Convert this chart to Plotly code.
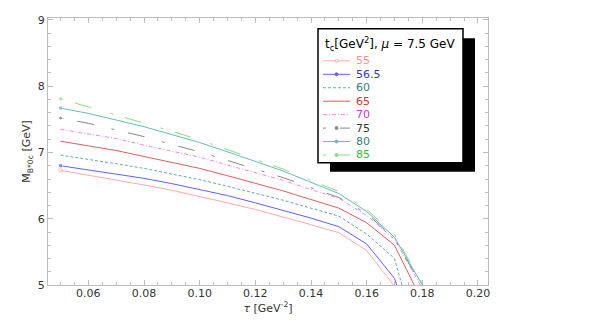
import plotly.graph_objects as go

# tau grid [GeV^-2]
tau = [0.05, 0.06, 0.07, 0.08, 0.09, 0.10, 0.11, 0.12, 0.13, 0.14, 0.15, 0.16, 0.17, 0.18]

# mass curves [GeV], one per threshold t_c
m_55 = [6.73, 6.66, 6.59, 6.51, 6.43, 6.34, 6.24, 6.14, 6.03, 5.91, 5.79, 5.52, 4.98, 3.60]
m_565 = [6.80, 6.74, 6.68, 6.61, 6.53, 6.44, 6.35, 6.24, 6.13, 6.01, 5.88, 5.62, 5.10, 3.80]
m_60 = [6.96, 6.90, 6.83, 6.76, 6.68, 6.59, 6.49, 6.39, 6.28, 6.16, 6.04, 5.77, 5.40, 3.90]
m_65 = [7.17, 7.10, 7.03, 6.94, 6.85, 6.76, 6.65, 6.54, 6.42, 6.29, 6.16, 5.94, 5.60, 4.75]
m_70 = [7.35, 7.28, 7.21, 7.11, 7.02, 6.93, 6.81, 6.70, 6.58, 6.44, 6.31, 6.05, 5.69, 4.95]
m_75 = [7.52, 7.44, 7.34, 7.24, 7.12, 7.01, 6.88, 6.75, 6.62, 6.47, 6.32, 6.08, 5.70, 4.98]
m_80 = [7.67, 7.59, 7.49, 7.39, 7.27, 7.15, 7.01, 6.87, 6.72, 6.55, 6.38, 6.11, 5.72, 5.00]
m_85 = [7.81, 7.69, 7.57, 7.45, 7.32, 7.19, 7.045, 6.90, 6.75, 6.58, 6.41, 6.14, 5.76, 5.02]

labels = ['55', '56.5', '60', '65', '70', '75', '80', '85']
series = [m_55, m_565, m_60, m_65, m_70, m_75, m_80, m_85]

# style per curve: line colour, dash, text colour, marker symbol (or None)
styles = [
    ('#FFAAAA', 'solid', '#FF9090', 'circle-open'),
    ('#6060FF', 'solid', '#3333CC', 'square'),
    ('#66AAAA', '3px,2px', '#2F7F7F', None),
    ('#D86060', 'solid', '#CC3333', None),
    ('#EE88EE', '4px,2px,1px,2px', '#CC33CC', None),
    ('#888888', '3px,14px,17px,18px', '#333333', 'circle'),
    ('#66BBBB', 'solid', '#2F7F7F', 'square'),
    ('#88DD88', '3px,12px,17px,20px', '#33BB33', 'circle'),
]

W, H = 611, 324
L, R, T, B = 40, 131, 6, 47
pw, ph = W - L - R, H - T - B


def px(x):
    return (x - L) / pw


def py(y):
    return (H - B - y) / ph


fig = go.Figure()
for lab, ys, (col, dash, tcol, sym) in zip(labels, series, styles):
    sizes = [4] + [0] * (len(ys) - 1)
    fig.add_trace(go.Scatter(
        x=tau, y=ys, mode='lines+markers' if sym else 'lines',
        line=dict(color=col, width=1, dash=dash),
        marker=dict(color=col, size=sizes, symbol=sym or 'circle'),
        name=lab, showlegend=False,
    ))

# hand-made legend with drop shadow
shapes = [
    dict(type='rect', xref='paper', yref='paper', x0=px(322), x1=px(467), y0=py(26.5), y1=py(162),
         fillcolor='black', line=dict(width=0), layer='above'),
    dict(type='rect', xref='paper', yref='paper', x0=px(310), x1=px(455), y0=py(17), y1=py(153),
         fillcolor='white', line=dict(color='black', width=1.5), layer='above'),
]
annotations = [
    dict(text='t<sub>c</sub>[GeV<sup>2</sup>], <i>μ</i> = 7.5 GeV', xref='paper', yref='paper',
         x=px(382), y=py(32), xanchor='center', yanchor='middle', showarrow=False,
         font=dict(size=12, color='black')),
]
for i, (lab, (col, dash, tcol, sym)) in enumerate(zip(labels, styles)):
    yy = 49.5 + i * 13.65
    shapes.append(dict(type='line', xref='paper', yref='paper', x0=px(315), x1=px(342),
                       y0=py(yy), y1=py(yy), line=dict(color=col, width=1, dash=dash), layer='above'))
    if sym:
        shapes.append(dict(type='circle', xref='paper', yref='paper', x0=px(327), x1=px(330),
                           y0=py(yy - 1.5), y1=py(yy + 1.5), fillcolor=col if 'open' not in sym else 'white',
                           line=dict(color=col, width=1), layer='above'))
    annotations.append(dict(text=lab, xref='paper', yref='paper', x=px(346), y=py(yy),
                            xanchor='left', yanchor='middle', showarrow=False,
                            font=dict(size=11, color=tcol)))

axis_common = dict(showline=True, mirror='allticks', linecolor='#BBBBBB', linewidth=1,
                   ticks='inside', ticklen=5, tickcolor='#BBBBBB', showgrid=False, zeroline=False,
                   tickfont=dict(size=11, color='#333333'))

fig.update_layout(
    width=W, height=H, margin=dict(l=L, r=R, t=T, b=B),
    paper_bgcolor='white', plot_bgcolor='white',
    font=dict(family='DejaVu Sans', size=11, color='#333333'),
    xaxis=dict(range=[0.0455, 0.2036], tickvals=[0.06, 0.08, 0.10, 0.12, 0.14, 0.16, 0.18, 0.20],
               ticktext=['0.06', '0.08', '0.10', '0.12', '0.14', '0.16', '0.18', '0.20'],
               minor=dict(dtick=0.005, tick0=0.0, ticklen=3, tickcolor='#BBBBBB', ticks='inside'),
               ticklabelstandoff=-2,
               title=dict(text='<i>τ</i> [GeV<sup>-2</sup>]', font=dict(size=11), standoff=3),
               **axis_common),
    yaxis=dict(range=[5, 9.03], tickvals=[5, 6, 7, 8, 9],
               minor=dict(dtick=0.2, tick0=5, ticklen=3, tickcolor='#BBBBBB', ticks='inside'),
               title=dict(text='M<sub>B*0c</sub> [GeV]', font=dict(size=11), standoff=4),
               **axis_common),
    shapes=shapes, annotations=annotations,
)

fig.write_html('out.html')
